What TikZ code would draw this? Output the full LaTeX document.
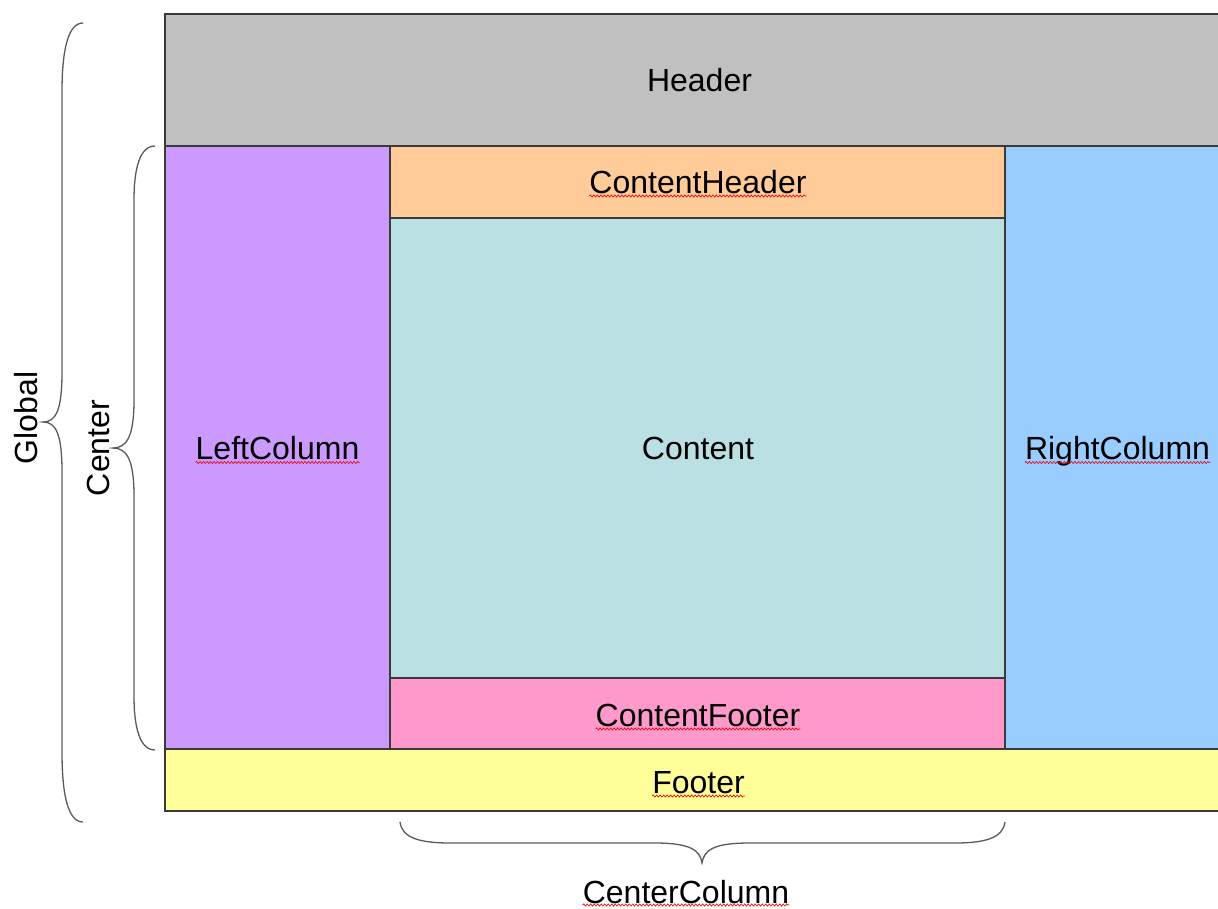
\documentclass[tikz,border=0pt]{standalone}
\usepackage{fontspec}
\setmainfont{Liberation Sans}
\usetikzlibrary{decorations.pathmorphing}
\definecolor{hdr}{HTML}{C0C0C0}
\definecolor{leftc}{HTML}{CC99FF}
\definecolor{chdr}{HTML}{FFCC99}
\definecolor{cont}{HTML}{BBE0E3}
\definecolor{cftr}{HTML}{FF99CC}
\definecolor{rightc}{HTML}{99CCFF}
\definecolor{ftr}{HTML}{FFFF99}
\definecolor{edge}{HTML}{3A3A3A}
\definecolor{bracec}{HTML}{5A5A5A}
\tikzset{
  box/.style={draw=edge, line width=1.3pt, inner sep=0pt, outer sep=0pt},
  lbl/.style={inner sep=0pt, text height=23pt, text depth=0pt, font=\fontsize{32}{38}\selectfont},
  squig/.style={draw=red!90!black, line width=0.6pt, decorate, decoration={snake, amplitude=1.1pt, segment length=3.5pt}},
  bracepath/.style={draw=bracec, line width=1.3pt}
}
\begin{document}
\begin{tikzpicture}[x=1pt,y=-1pt]
\useasboundingbox (0,0) rectangle (1218,908);
\clip (0,0) rectangle (1218,908);
% boxes
\node[box, fill=hdr, minimum width=1067pt, minimum height=132pt] (header) at (698.5,80) {};
\node[box, fill=leftc, minimum width=225pt, minimum height=603pt] (left) at (277.5,447.5) {};
\node[box, fill=chdr, minimum width=615pt, minimum height=72pt] (chead) at (697.5,182) {};
\node[box, fill=cont, minimum width=615pt, minimum height=460pt] (content) at (697.5,448) {};
\node[box, fill=cftr, minimum width=615pt, minimum height=71pt] (cfoot) at (697.5,713.5) {};
\node[box, fill=rightc, minimum width=227pt, minimum height=603pt] (right) at (1118.5,447.5) {};
\node[box, fill=ftr, minimum width=1067pt, minimum height=62pt] (footer) at (698.5,780) {};
% labels
\node[lbl] (tHeader) at (699.5,80) {Header};
\node[lbl] (tLeft) at (277.5,448) {LeftColumn};
\node[lbl] (tCHead) at (698,181.5) {ContentHeader};
\node[lbl] (tContent) at (698,448) {Content};
\node[lbl] (tCFoot) at (698,714.5) {ContentFooter};
\node[lbl] (tRight) at (1117.5,448) {RightColumn};
\node[lbl] (tFooter) at (698.5,781.5) {Footer};
\node[lbl] (tCenterCol) at (686,891.5) {CenterColumn};
\node[lbl, rotate=90] (tGlobal) at (26,418) {Global};
\node[lbl, rotate=90] (tCenter) at (98,448) {Center};
% spell-check squiggles
\foreach \n in {tLeft,tCHead,tCFoot,tRight,tFooter}
  \draw[squig] ([yshift=-3pt]\n.base west) -- ([yshift=-3pt]\n.base east);
\draw[squig] ([yshift=-2pt]tCenterCol.base west) -- ([yshift=-2pt]tCenterCol.base east);
% braces
\draw[bracepath] (83,23) .. controls (68,23) and (62,50) .. (62,92) -- (62,372)
  .. controls (62,410) and (56,422) .. (43,422)
  .. controls (56,422) and (62,434) .. (62,472) -- (62,752)
  .. controls (62,795) and (68,822) .. (83,822);
\draw[bracepath] (155,146) .. controls (140,146) and (134,168) .. (134,200) -- (134,400)
  .. controls (134,436) and (127,448) .. (113,448)
  .. controls (127,448) and (134,460) .. (134,496) -- (134,696)
  .. controls (134,728) and (140,750) .. (155,750);
\draw[bracepath] (400,822) .. controls (402,838) and (420,843) .. (450,843) -- (655,843)
  .. controls (690,843) and (700,850) .. (702,863)
  .. controls (704,850) and (714,843) .. (749,843) -- (955,843)
  .. controls (985,843) and (1003,838) .. (1005,822);
\end{tikzpicture}
\end{document}
